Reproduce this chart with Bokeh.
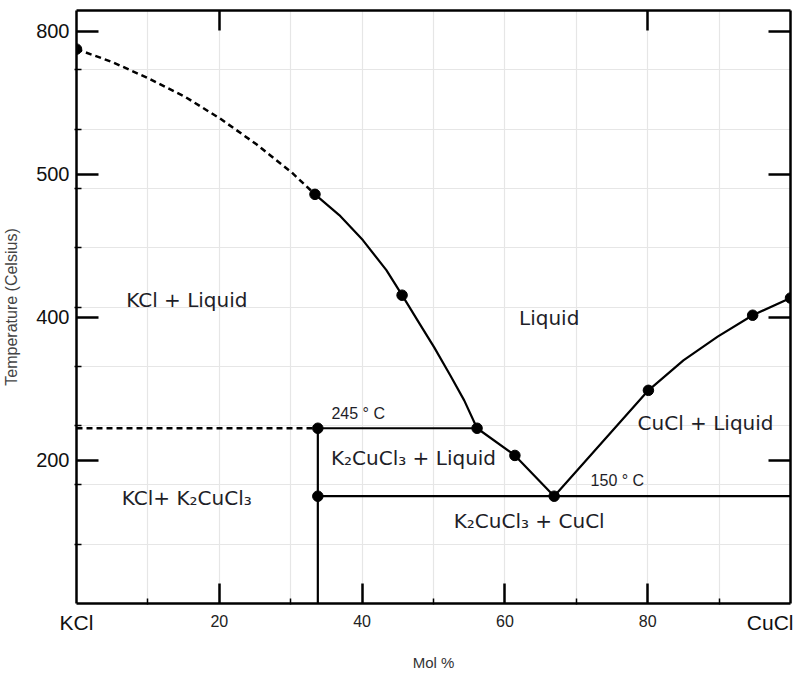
import numpy as np
from bokeh.plotting import figure
from bokeh.models import FixedTicker, LinearAxis, Label, Range1d
from bokeh.embed import file_html
from bokeh.resources import INLINE

# ---------------- data (mol % CuCl, temperature °C) ----------------
liq_dash_x = [0, 5.0, 10.1, 15.1, 20.1, 25.2, 30.1, 33.4]
liq_dash_t = [775, 757, 734, 709, 678, 642, 603, 572]

liq_kcl_x = [33.4, 36.8, 40.1, 43.4, 45.6, 48.0, 50.1, 52.4, 54.3, 56.1]
liq_kcl_t = [572, 543, 508, 466, 431, 392, 358, 318, 284, 245]

liq_k2_x = [56.1, 61.4, 66.9]
liq_k2_t = [245, 207, 150]

liq_cucl_x = [66.9, 80.1, 85.0, 89.8, 94.7, 100]
liq_cucl_t = [150, 298, 340, 373, 403, 427]

dash_245_x = [0, 33.8]
dash_245_t = [245, 245]
peritectic_x = [33.8, 56.1]
peritectic_t = [245, 245]
compound_x = [33.8, 33.8]
compound_t = [0, 245]
eutectic_x = [33.8, 100]
eutectic_t = [150, 150]

dots_x = [0, 33.4, 45.6, 56.1, 61.4, 66.9, 80.1, 94.7, 100, 33.8, 33.8]
dots_t = [775, 572, 431, 245, 207, 150, 298, 403, 427, 245, 150]

y_ticks = [200, 400, 600, 800]
y_tick_labels = {600: "500"}
x_ticks = [20, 40, 60, 80]
x_minor = [10, 30, 50, 70, 90]
top_ticks = [20, 80]
end_ticks = [0, 100]
end_labels = {0: "KCl", 100: "CuCl"}

regions = [
    ("KCl + Liquid", 15.45, 424),
    ("Liquid", 66.2, 399),
    ("CuCl + Liquid", 88.1, 253),
    ("K\u2082CuCl\u2083 + Liquid", 47.2, 203),
    ("KCl+ K\u2082CuCl\u2083", 15.45, 148),
    ("K\u2082CuCl\u2083 + CuCl", 63.4, 115),
]
temps = [("245 \u00b0 C", 35.7, 266), ("150 \u00b0 C", 72.0, 172)]

Y_MAX = 829
grid_y = list(np.linspace(0, Y_MAX, 11)[1:-1])
grid_x = [10, 20, 30, 40, 50, 60, 70, 80, 90]

# ---------------- figure ----------------
p = figure(width=793, height=675, x_range=Range1d(0, 100), y_range=Range1d(0, Y_MAX),
           output_backend="svg", toolbar_location=None,
           min_border_left=75, min_border_right=3, min_border_top=10, min_border_bottom=72)
p.outline_line_color = None
p.background_fill_color = "white"

p.xgrid.ticker = FixedTicker(ticks=grid_x)
p.ygrid.ticker = FixedTicker(ticks=grid_y)
for g in (p.xgrid, p.ygrid):
    g.grid_line_color = "#e6e6e6"
    g.grid_line_width = 1.2

AX = dict(axis_line_width=2.5, axis_line_color="black",
          major_tick_line_width=2.5, major_tick_line_color="black",
          minor_tick_line_width=1.5, minor_tick_line_color="black")

xa = p.xaxis[0]
xa.ticker = FixedTicker(ticks=x_ticks, minor_ticks=x_minor)
xa.major_tick_in = 20
xa.major_tick_out = 0
xa.minor_tick_in = 5
xa.minor_tick_out = 1
xa.major_label_text_font = "Liberation Sans"
xa.major_label_text_font_size = "16px"
xa.major_label_text_color = "#222222"
xa.major_label_standoff = 10
for k, v in AX.items():
    setattr(xa, k, v)

# second bottom axis: composition end members, pulled up onto the same row
ba = LinearAxis(ticker=FixedTicker(ticks=end_ticks, minor_ticks=[]),
                major_label_overrides=end_labels,
                axis_line_color=None, major_tick_line_color=None, minor_tick_line_color=None,
                major_tick_in=0, major_tick_out=0,
                major_label_standoff=-19,
                major_label_text_font="Liberation Sans", major_label_text_font_size="21px",
                major_label_text_color="#111111",
                axis_label="Mol %", axis_label_text_font="Liberation Sans",
                axis_label_text_font_size="15px", axis_label_text_font_style="normal",
                axis_label_text_color="#333333", axis_label_standoff=17)
p.add_layout(ba, "below")

ya = p.yaxis[0]
ya.ticker = FixedTicker(ticks=y_ticks, minor_ticks=grid_y)
ya.major_label_overrides = y_tick_labels
ya.major_tick_in = 22
ya.major_tick_out = 0
ya.minor_tick_in = 5
ya.minor_tick_out = 2
ya.major_label_text_font = "Liberation Sans"
ya.major_label_text_font_size = "20px"
ya.major_label_text_color = "#111111"
ya.major_label_standoff = 5
ya.axis_label = "Temperature (Celsius)"
ya.axis_label_text_font = "Liberation Sans"
ya.axis_label_text_font_size = "16px"
ya.axis_label_text_font_style = "normal"
ya.axis_label_text_color = "#444444"
ya.axis_label_standoff = 13
for k, v in AX.items():
    setattr(ya, k, v)

ra = LinearAxis(ticker=FixedTicker(ticks=y_ticks, minor_ticks=[]),
                major_tick_in=22, major_tick_out=0, major_label_standoff=0,
                major_label_overrides={t: "" for t in y_ticks}, **AX)
p.add_layout(ra, "right")
ta = LinearAxis(ticker=FixedTicker(ticks=top_ticks, minor_ticks=[]),
                major_tick_in=20, major_tick_out=0, major_label_standoff=0,
                major_label_overrides={t: "" for t in top_ticks}, **AX)
p.add_layout(ta, "above")

# ---------------- lines ----------------
p.line(liq_dash_x, liq_dash_t, line_color="black", line_width=2.5, line_dash="6 4")
p.line(dash_245_x, dash_245_t, line_color="black", line_width=2.5, line_dash="6 4")
for xs, ts in [(liq_kcl_x, liq_kcl_t), (liq_k2_x, liq_k2_t), (liq_cucl_x, liq_cucl_t),
               (peritectic_x, peritectic_t), (compound_x, compound_t), (eutectic_x, eutectic_t)]:
    p.line(xs, ts, line_color="black", line_width=2.2, line_join="round")

p.scatter(dots_x, dots_t, size=10.5, color="black")

# ---------------- texts ----------------
for txt, x, t in regions:
    p.add_layout(Label(x=x, y=t, text=txt, text_align="center", text_baseline="middle",
                       text_font="DejaVu Sans", text_font_size="20px", text_color="#1e1e28"))
for txt, x, t in temps:
    p.add_layout(Label(x=x, y=t, text=txt, text_align="left", text_baseline="middle",
                       text_font="Liberation Sans", text_font_size="16px", text_color="#1e1e28"))

open("out.html", "w").write(file_html(p, INLINE))
